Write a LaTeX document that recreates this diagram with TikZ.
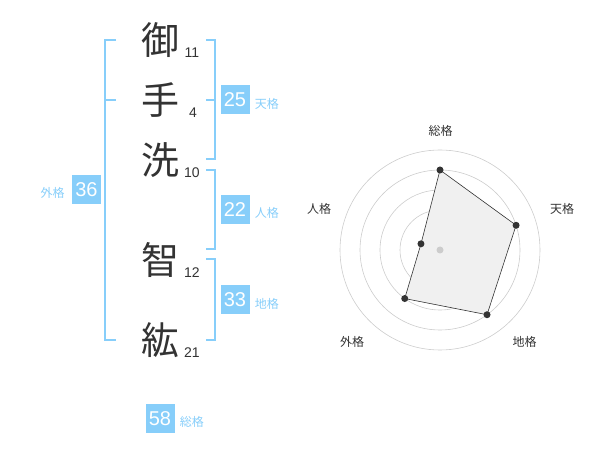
\documentclass[tikz,border=0pt]{standalone}
\usepackage{fontspec}
\setmainfont{Liberation Sans}
\newfontfamily\jpfont{Noto Sans CJK JP}
\usetikzlibrary{positioning}

\definecolor{kakublue}{RGB}{135,206,250}
\definecolor{ink}{RGB}{51,51,51}

\tikzset{
  kanji/.style={font=\jpfont\fontsize{38}{38}\selectfont, text=ink, inner sep=0},
  strokes/.style={font=\fontsize{14}{14}\selectfont, text=ink, inner sep=0},
  kakubox/.style={fill=kakublue, text=white, font=\fontsize{20}{20}\selectfont,
    minimum width=29pt, minimum height=29pt, inner sep=0},
  kakulabel/.style={font=\jpfont\fontsize{12}{12}\selectfont, text=kakublue, inner sep=0},
  bracket/.style={draw=kakublue, line width=2pt},
  ring/.style={draw=black!20, line width=0.6pt},
  axislabel/.style={font=\jpfont\fontsize{12}{12}\selectfont, text=ink, inner sep=0},
  radardot/.style={circle, fill=ink, inner sep=0, minimum size=7pt},
}

\begin{document}
\begin{tikzpicture}[x=1pt, y=-1pt]

\useasboundingbox (0,0) rectangle (600,470);

% Name characters
\node[kanji] (c1) at (160,40) {御};
\node[kanji] (c2) at (160,100) {手};
\node[kanji] (c3) at (160,160) {洗};
\node[kanji] (c4) at (160,260) {智};
\node[kanji] (c5) at (160,340) {紘};

% Stroke counts
\node[strokes] (n1) at (192,53) {11};
\node[strokes] (n2) at (193,113) {4};
\node[strokes] (n3) at (192,173) {10};
\node[strokes] (n4) at (192,273) {12};
\node[strokes] (n5) at (192,353) {21};

% Brackets
\draw[bracket] (116,40) -- (105,40) -- (105,340) -- (116,340);
\draw[bracket] (105,100) -- (116,100);
\draw[bracket] (206,40) -- (215,40) -- (215,159) -- (206,159);
\draw[bracket] (206,100) -- (215,100);
\draw[bracket] (206,170) -- (215,170) -- (215,249) -- (206,249);
\draw[bracket] (206,259) -- (215,259) -- (215,340) -- (206,340);

% Scores
\node[kakubox] (ten) at (235,100) {25};
\node[kakulabel, right=5pt of ten, yshift=-3.5pt] (tenl) {天格};
\node[kakubox] (jin) at (235,210) {22};
\node[kakulabel, right=5pt of jin, yshift=-3pt] (jinl) {人格};
\node[kakubox] (chi) at (235,300) {33};
\node[kakulabel, right=5pt of chi, yshift=-3.5pt] (chil) {地格};
\node[kakubox] (gai) at (86.5,190) {36};
\node[kakulabel, left=7pt of gai, yshift=-3pt] (gail) {外格};
\node[kakubox] (sou) at (160,418.5) {58};
\node[kakulabel, right=5pt of sou, yshift=-3.5pt] (soul) {総格};

% Radar chart
\begin{scope}[shift={(440,250)}, yscale=-1]
  \foreach \r in {20,40,...,100}
    \draw[ring] (0,0) circle[radius=\r pt];
  \coordinate (psou) at (90:80);
  \coordinate (pten) at (18:80);
  \coordinate (pchi) at (-54:80);
  \coordinate (pgai) at (-126:60);
  \coordinate (pjin) at (162:20);
  \draw[fill=black!6, draw=ink, line width=0.6pt]
    (psou) -- (pten) -- (pchi) -- (pgai) -- (pjin) -- cycle;
  \node[circle, fill=black!20, inner sep=0, minimum size=7pt] (mid) at (0,0) {};
  \foreach \p in {psou,pten,pchi,pgai,pjin}
    \node[radardot] (d\p) at (\p) {};
\end{scope}

% Axis labels
\node[axislabel] (asou) at (440.5,131) {総格};
\node[axislabel] (aten) at (562,209) {天格};
\node[axislabel] (achi) at (524.5,342) {地格};
\node[axislabel] (agai) at (352,342) {外格};
\node[axislabel] (ajin) at (319,209) {人格};

\end{tikzpicture}
\end{document}
